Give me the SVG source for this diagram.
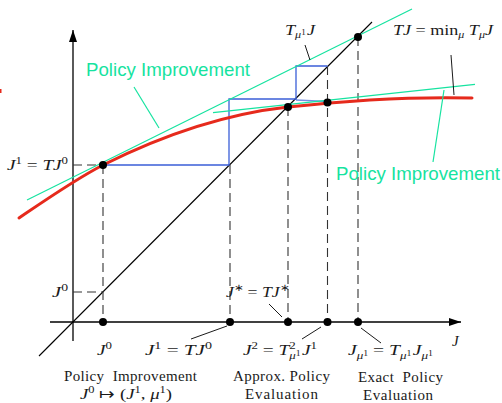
<svg xmlns="http://www.w3.org/2000/svg" width="502" height="403" viewBox="0 0 502 403">
<defs>
<style>
.ax{stroke:#000;stroke-width:1.3;fill:none}
.dg{stroke:#000;stroke-width:1.1;fill:none}
.ds{stroke:#333;stroke-width:1.1;stroke-dasharray:9 5;fill:none}
.bl{stroke:#3b5fd8;stroke-width:1.3;fill:none}
.gr{stroke:#16e3a0;stroke-width:1.2;fill:none}
.rd{stroke:#e62a1c;stroke-width:3;fill:none;stroke-linecap:round}
.pt{stroke:#000;stroke-width:0.9;fill:none}
.dot{fill:#000}
.m{font-family:"Liberation Serif",serif;font-size:15px;fill:#1a1a1a}
.i{font-style:italic}
.s{font-size:10px}
.ss{font-size:7.5px}
.g{font-family:"Liberation Sans",Arial,sans-serif;font-size:18.5px;fill:#16e3a0}
</style>
<marker id="arr" viewBox="0 0 12 8" refX="12" refY="4" markerWidth="12" markerHeight="8" markerUnits="userSpaceOnUse" orient="auto">
<path d="M0,0 L12,4 L0,8 Z" fill="#000"/>
</marker>
</defs>
<rect x="0" y="89" width="1.5" height="4" fill="#e62a1c"/>
<g id="axes">
<line class="ax" x1="73" y1="341" x2="73" y2="30" marker-end="url(#arr)"/>
<line class="ax" x1="50" y1="322" x2="461" y2="322" marker-end="url(#arr)"/>
</g>
<g id="connectors">
<line class="dg" x1="39" y1="356" x2="372" y2="22"/>
<path class="ds" d="M73,292 H103 M73,165 H103 M103,165 V322 M230,165 V322 M288,107 V322 M327.5,66 V322 M358,37 V322"/>
<path class="bl" d="M103,165 H229 V99 H296 V66 H327.5"/>
<path class="bl" d="M296,100 L327.5,101.5" stroke-opacity="0.7"/>
<line class="gr" x1="27" y1="200" x2="412" y2="9"/>
<line class="gr" x1="213" y1="112.7" x2="475" y2="84.3"/>
<path class="rd" d="M19,218 C47,199 75,179.5 103,165 C163,135 228,113.6 288,107 C348,100.4 412,96.5 472,98"/>
<line class="gr" x1="134" y1="87" x2="159" y2="128"/>
<line class="gr" x1="433" y1="162" x2="444" y2="90"/>
<line class="pt" x1="305" y1="45" x2="310" y2="60"/>
<line class="pt" x1="451" y1="55" x2="454" y2="95"/>
<line class="pt" x1="269" y1="304" x2="282" y2="317"/>
<line class="pt" x1="191" y1="339" x2="227" y2="326"/>
<line class="pt" x1="302" y1="339" x2="321" y2="327"/>
<line class="pt" x1="361" y1="328" x2="381" y2="343"/>
</g>
<g id="points">
<circle class="dot" cx="103" cy="165" r="4"/>
<circle class="dot" cx="288" cy="107" r="4"/>
<circle class="dot" cx="327.5" cy="102.5" r="4"/>
<circle class="dot" cx="358" cy="37" r="4"/>
<circle class="dot" cx="103" cy="322" r="4"/>
<circle class="dot" cx="230" cy="322" r="4"/>
<circle class="dot" cx="288" cy="322" r="4"/>
<circle class="dot" cx="327.5" cy="322" r="4"/>
<circle class="dot" cx="358" cy="322" r="4"/>
</g>
<g id="labels">
<text class="g" x="86" y="76" textLength="164" lengthAdjust="spacingAndGlyphs">Policy Improvement</text>
<text class="g" x="336" y="180" textLength="164" lengthAdjust="spacingAndGlyphs">Policy Improvement</text>
<text class="m" x="7" y="170" textLength="61" lengthAdjust="spacingAndGlyphs"><tspan class="i">J</tspan><tspan class="s" dy="-6">1</tspan><tspan dy="6"> = </tspan><tspan class="i">TJ</tspan><tspan class="s" dy="-6">0</tspan></text>
<text class="m" x="52" y="297" textLength="16" lengthAdjust="spacingAndGlyphs"><tspan class="i">J</tspan><tspan class="s" dy="-6">0</tspan></text>
<text class="m" x="97" y="355" textLength="15" lengthAdjust="spacingAndGlyphs"><tspan class="i">J</tspan><tspan class="s" dy="-6">0</tspan></text>
<text class="m" x="145" y="355" textLength="67" lengthAdjust="spacingAndGlyphs"><tspan class="i">J</tspan><tspan class="s" dy="-6">1</tspan><tspan dy="6"> = </tspan><tspan class="i">TJ</tspan><tspan class="s" dy="-6">0</tspan></text>
<text class="m" x="226" y="297" textLength="63" lengthAdjust="spacingAndGlyphs"><tspan class="i">J</tspan><tspan class="s" dy="-6">∗</tspan><tspan dy="6"> = </tspan><tspan class="i">TJ</tspan><tspan class="s" dy="-6">∗</tspan></text>
<text class="m" x="243" y="355" textLength="74" lengthAdjust="spacingAndGlyphs"><tspan class="i">J</tspan><tspan class="s" dy="-6">2</tspan><tspan dy="6"> = </tspan><tspan class="i">T</tspan><tspan class="s" dy="-6">2</tspan><tspan class="s i" dx="-5" dy="10">μ</tspan><tspan class="ss" dy="-3">1</tspan><tspan class="i" dx="1" dy="-1">J</tspan><tspan class="s" dy="-6">1</tspan></text>
<text class="m" x="348" y="355" textLength="85" lengthAdjust="spacingAndGlyphs"><tspan class="i">J</tspan><tspan class="s i" dy="4">μ</tspan><tspan class="ss" dy="-3">1</tspan><tspan dy="-1"> = </tspan><tspan class="i">T</tspan><tspan class="s i" dy="4">μ</tspan><tspan class="ss" dy="-3">1</tspan><tspan class="i" dx="1" dy="-1">J</tspan><tspan class="s i" dy="4">μ</tspan><tspan class="ss" dy="-3">1</tspan></text>
<text class="m i" x="452" y="346">J</text>
<text class="m" x="285" y="35" textLength="30" lengthAdjust="spacingAndGlyphs"><tspan class="i">T</tspan><tspan class="s i" dy="3">μ</tspan><tspan class="ss" dy="-3">1</tspan><tspan class="i" dx="1">J</tspan></text>
<text class="m" x="393" y="35" textLength="100" lengthAdjust="spacingAndGlyphs"><tspan class="i">TJ</tspan> = min<tspan class="s i" dy="3">μ</tspan><tspan class="i" dy="-3"> T</tspan><tspan class="s i" dy="3">μ</tspan><tspan class="i" dy="-3">J</tspan></text>
<text class="m" x="64" y="381" textLength="133" xml:space="preserve">Policy  Improvement</text>
<text class="m" x="80" y="399" textLength="92" lengthAdjust="spacingAndGlyphs"><tspan class="i">J</tspan><tspan class="s" dy="-6">0</tspan><tspan dy="6"> ↦ (</tspan><tspan class="i">J</tspan><tspan class="s" dy="-6">1</tspan><tspan dy="6">, </tspan><tspan class="i">μ</tspan><tspan class="s" dy="-6">1</tspan><tspan dy="6">)</tspan></text>
<text class="m" x="233" y="381" textLength="97">Approx. Policy</text>
<text class="m" x="245" y="399" textLength="73">Evaluation</text>
<text class="m" x="358" y="382" textLength="85" xml:space="preserve">Exact  Policy</text>
<text class="m" x="363" y="400" textLength="70">Evaluation</text>
</g>
</svg>
